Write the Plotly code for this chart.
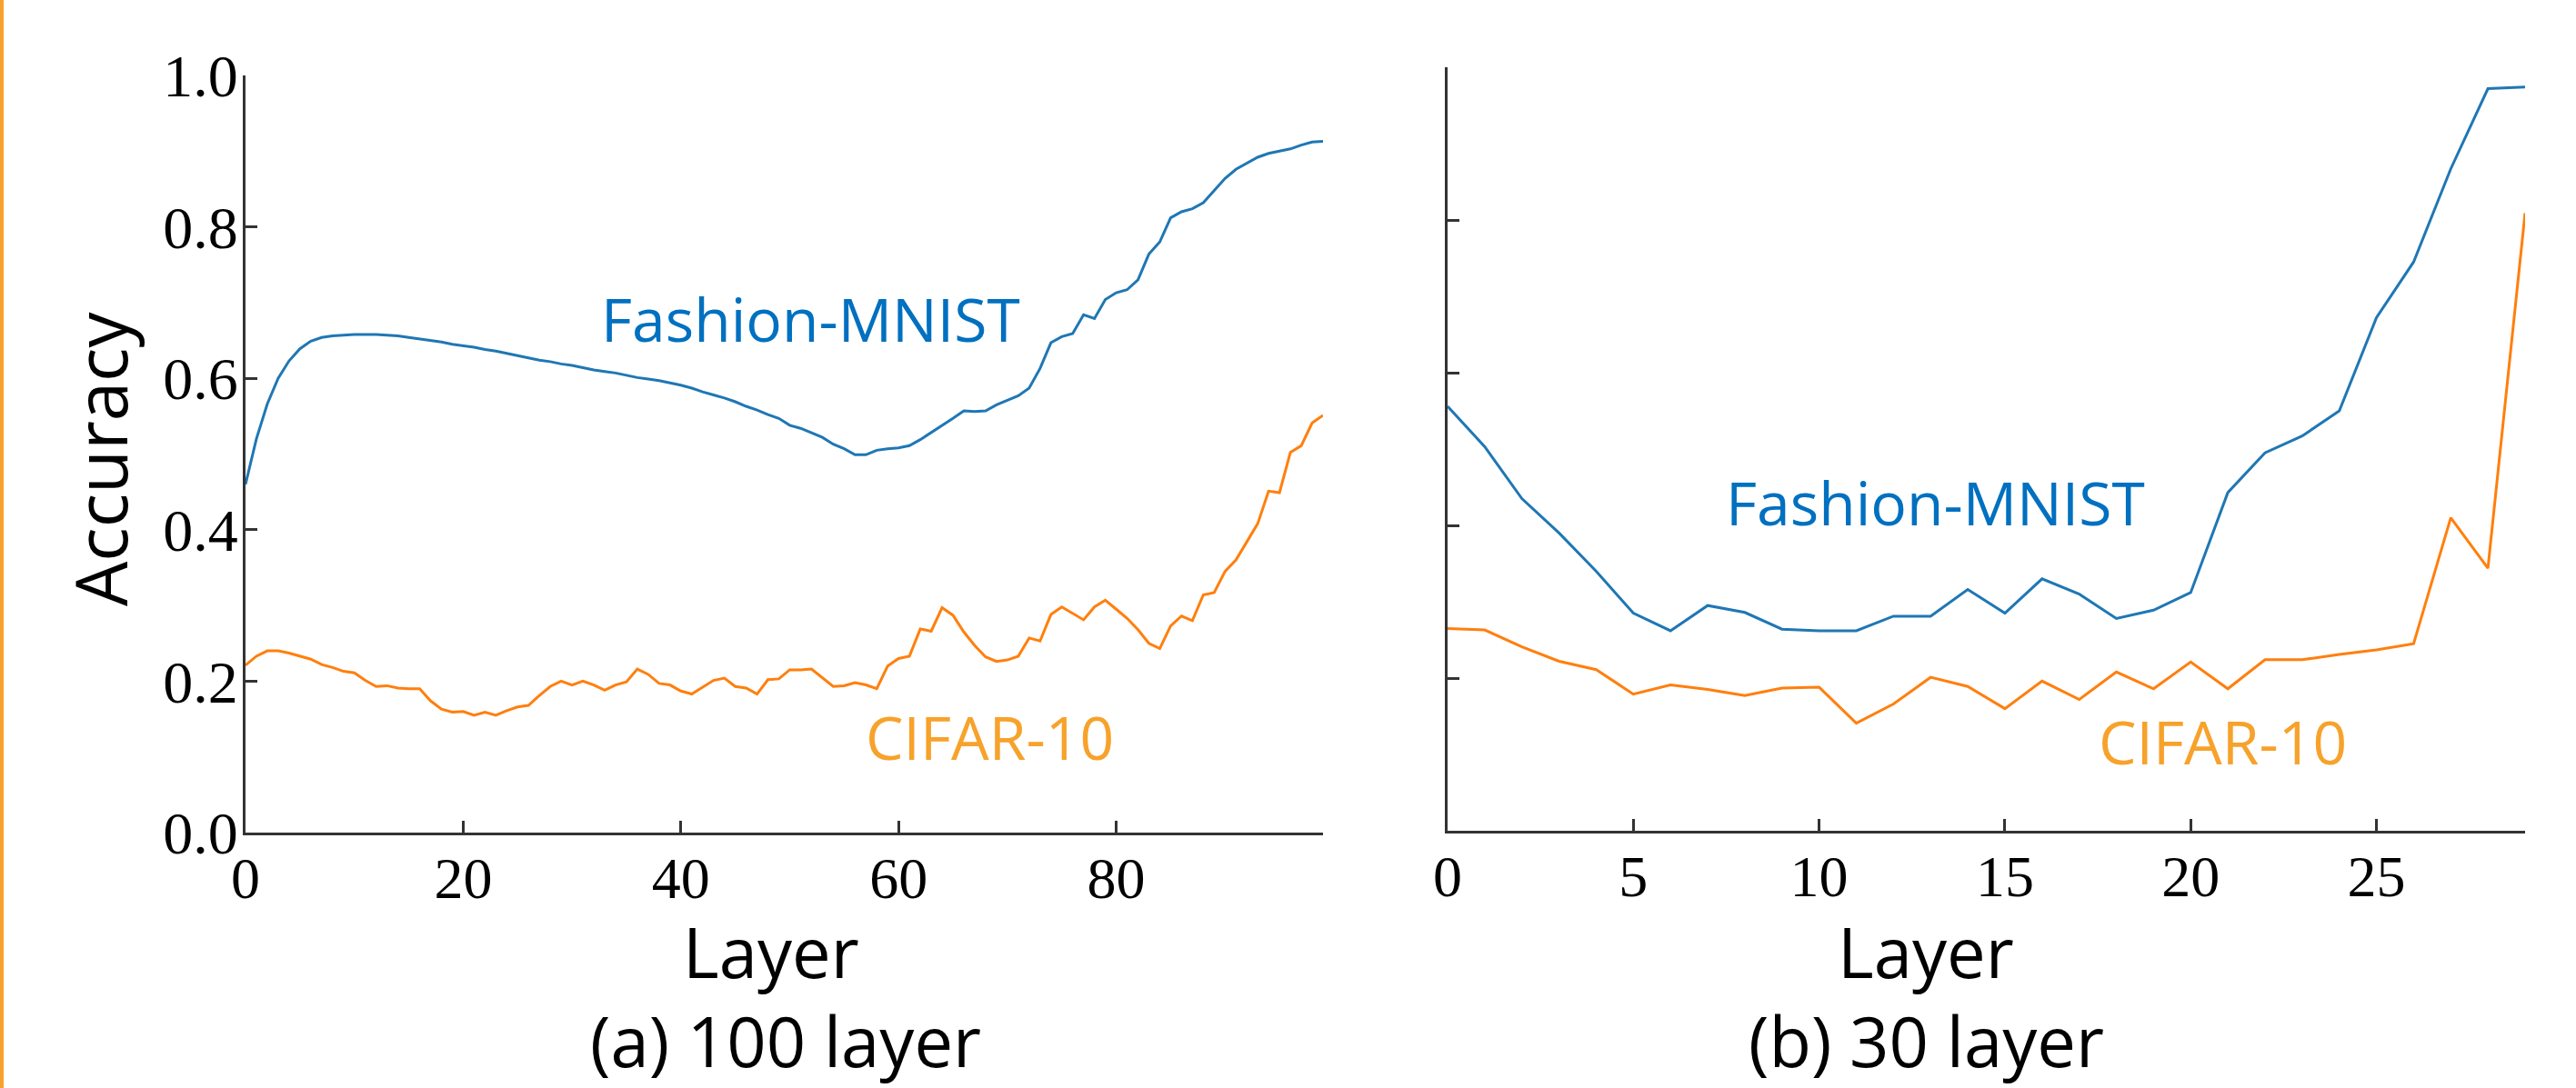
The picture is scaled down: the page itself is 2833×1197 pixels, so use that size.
import plotly.graph_objects as go

# ---------------- data ----------------
layers_100 = list(range(100))
fashion_100 = [
    0.460, 0.520, 0.566, 0.600, 0.623, 0.639, 0.649, 0.654, 0.656, 0.657,
    0.658, 0.658, 0.658, 0.657, 0.656, 0.654, 0.652, 0.650, 0.648, 0.645,
    0.643, 0.641, 0.638, 0.636, 0.633, 0.630, 0.627, 0.624, 0.622, 0.619,
    0.617, 0.614, 0.611, 0.609, 0.607, 0.604, 0.601, 0.599, 0.597, 0.594,
    0.591, 0.587, 0.582, 0.578, 0.574, 0.569, 0.563, 0.558, 0.552, 0.547,
    0.538, 0.534, 0.528, 0.522, 0.513, 0.507, 0.499, 0.499, 0.505, 0.507,
    0.508, 0.511, 0.519, 0.528, 0.537, 0.547, 0.557, 0.556, 0.557, 0.565,
    0.571, 0.577, 0.587, 0.613, 0.647, 0.655, 0.659, 0.684, 0.679, 0.704,
    0.713, 0.717, 0.730, 0.764, 0.780, 0.812, 0.820, 0.824, 0.832, 0.848,
    0.864, 0.876, 0.884, 0.892, 0.897, 0.900, 0.903, 0.908, 0.912, 0.913,
]
cifar_100 = [
    0.221, 0.233, 0.240, 0.240, 0.237, 0.233, 0.229, 0.222, 0.218, 0.213,
    0.211, 0.201, 0.193, 0.194, 0.191, 0.190, 0.190, 0.174, 0.163, 0.159,
    0.160, 0.155, 0.159, 0.155, 0.161, 0.166, 0.168, 0.181, 0.193, 0.200,
    0.195, 0.200, 0.195, 0.188, 0.195, 0.199, 0.216, 0.209, 0.197, 0.195,
    0.187, 0.183, 0.192, 0.201, 0.204, 0.193, 0.191, 0.183, 0.202, 0.203,
    0.215, 0.215, 0.216, 0.205, 0.193, 0.194, 0.198, 0.195, 0.190, 0.220,
    0.230, 0.233, 0.269, 0.266, 0.297, 0.287, 0.265, 0.247, 0.232, 0.226,
    0.228, 0.233, 0.257, 0.253, 0.288, 0.298, 0.290, 0.281, 0.298, 0.307,
    0.295, 0.283, 0.268, 0.250, 0.243, 0.273, 0.286, 0.280, 0.314, 0.317,
    0.345, 0.360, 0.384, 0.408, 0.451, 0.449, 0.502, 0.511, 0.541, 0.551,
]

layers_30 = list(range(30))
fashion_30 = [
    0.556, 0.503, 0.435, 0.390, 0.340, 0.285, 0.262, 0.295, 0.286, 0.264,
    0.262, 0.262, 0.281, 0.281, 0.316, 0.285, 0.330, 0.310, 0.278, 0.289,
    0.312, 0.443, 0.495, 0.517, 0.550, 0.672, 0.745, 0.867, 0.972, 0.974,
]
cifar_30 = [
    0.265, 0.263, 0.241, 0.222, 0.211, 0.179, 0.191, 0.185, 0.177, 0.187,
    0.188, 0.141, 0.166, 0.201, 0.189, 0.160, 0.196, 0.172, 0.208, 0.186,
    0.221, 0.186, 0.224, 0.224, 0.231, 0.237, 0.245, 0.410, 0.344, 0.809,
]

x_ticks_100 = [0, 20, 40, 60, 80]
x_ticks_30 = [0, 5, 10, 15, 20, 25]
y_ticks = [0.0, 0.2, 0.4, 0.6, 0.8, 1.0]
y_tick_text = ["0.0", "0.2", "0.4", "0.6", "0.8", "1.0"]

# ---------------- style ----------------
W, H = 2833, 1197
BLUE = "#1f77b4"
ORANGE = "#ff7f0e"
LBL_BLUE = "#0070C0"
LBL_ORANGE = "#F7A22B"
AX = "#333333"
SANS = "Open Sans"
SERIF = "Liberation Serif"


def px_x(p):
    return p / W


def px_y(p):
    return 1 - p / H


fig = go.Figure()
fig.add_trace(go.Scatter(x=layers_100, y=fashion_100, mode="lines",
                         line=dict(color=BLUE, width=3), xaxis="x", yaxis="y",
                         showlegend=False))
fig.add_trace(go.Scatter(x=layers_100, y=cifar_100, mode="lines",
                         line=dict(color=ORANGE, width=3), xaxis="x", yaxis="y",
                         showlegend=False))
fig.add_trace(go.Scatter(x=layers_30, y=fashion_30, mode="lines",
                         line=dict(color=BLUE, width=3), xaxis="x2", yaxis="y2",
                         showlegend=False))
fig.add_trace(go.Scatter(x=layers_30, y=cifar_30, mode="lines",
                         line=dict(color=ORANGE, width=3), xaxis="x2", yaxis="y2",
                         showlegend=False))

axis_common = dict(showline=True, linecolor=AX, linewidth=3, ticks="inside",
                   ticklen=13, tickwidth=3, tickcolor=AX, showgrid=False,
                   zeroline=False, automargin=False)
xfont = dict(family=SERIF, size=64, color="black")
yfont = dict(family=SERIF, size=66, color="black")

fig.update_layout(
    template="none",
    width=W, height=H,
    margin=dict(l=0, r=0, t=0, b=0, pad=0, autoexpand=False),
    paper_bgcolor="white", plot_bgcolor="white",
    xaxis=dict(domain=[px_x(270), px_x(1455)], range=[0, 99], anchor="y",
               tickvals=x_ticks_100, tickfont=xfont, ticklabelstandoff=-8,
               **axis_common),
    yaxis=dict(domain=[px_y(916), px_y(83)], range=[0, 1], anchor="x",
               tickvals=y_ticks, ticktext=y_tick_text, tickfont=yfont,
               ticklabelstandoff=-8, **axis_common),
    xaxis2=dict(domain=[px_x(1592), px_x(2777)], range=[0, 29], anchor="y2",
                tickvals=x_ticks_30, tickfont=xfont, ticklabelstandoff=-8,
                **axis_common),
    yaxis2=dict(domain=[px_y(914), px_y(74)], range=[0, 1], anchor="x2",
                tickvals=y_ticks, showticklabels=False, **axis_common),
)

ann = []


def add_text(text, xp, yp, size, color="black", angle=0):
    ann.append(dict(text=text, x=px_x(xp), y=px_y(yp), xref="paper", yref="paper",
                    xanchor="center", yanchor="middle", showarrow=False,
                    textangle=angle, font=dict(family=SANS, size=size, color=color)))


add_text("Accuracy", 110, 505, 78, angle=-90)
add_text("Layer", 848, 1046, 76)
add_text("(a) 100 layer", 864, 1144, 76)
add_text("Layer", 2118, 1046, 76)
add_text("(b) 30 layer", 2118, 1144, 76)
add_text("Fashion-MNIST", 891, 350, 66, LBL_BLUE)
add_text("CIFAR-10", 1088, 810, 66, LBL_ORANGE)
add_text("Fashion-MNIST", 2128, 552, 66, LBL_BLUE)
add_text("CIFAR-10", 2444, 815, 66, LBL_ORANGE)
fig.update_layout(annotations=ann)

fig.add_shape(type="rect", xref="paper", yref="paper", x0=0, x1=px_x(4), y0=0, y1=1,
              fillcolor=LBL_ORANGE, line=dict(width=0))

fig.write_html("out.html", config={"displayModeBar": False},
               post_script="document.body.style.margin='0';document.body.style.overflow='hidden';")
